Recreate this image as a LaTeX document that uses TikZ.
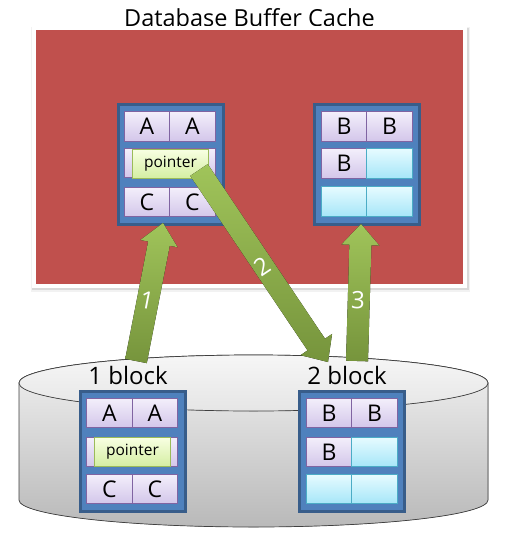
\documentclass[tikz,border=0pt]{standalone}
\usepackage{fontspec}
\setmainfont{Open Sans}
\usetikzlibrary{calc}
\definecolor{cacheRed}{HTML}{C0504D}
\definecolor{blk}{HTML}{4F81BD}
\definecolor{blkdark}{HTML}{385D8A}
\definecolor{purTop}{HTML}{F3EFFB}
\definecolor{purBot}{HTML}{D3C6EA}
\definecolor{purLine}{HTML}{8064A2}
\definecolor{cyTop}{HTML}{E6FBFF}
\definecolor{cyBot}{HTML}{A6E6F8}
\definecolor{cyLine}{HTML}{4BACC6}
\definecolor{ptTop}{HTML}{F8FFE2}
\definecolor{ptBot}{HTML}{D4EEA2}
\definecolor{ptLine}{HTML}{9BBB59}
\definecolor{grTop}{HTML}{A0C45A}
\definecolor{grBot}{HTML}{76943C}
\tikzset{
  blockbox/.style={fill=blk, draw=blkdark, line width=2.5pt, minimum width=105pt, minimum height=120pt, inner sep=0pt, anchor=north west},
  cellp/.style={top color=purTop, bottom color=purBot, draw=purLine, line width=0.7pt, minimum width=45.5pt, minimum height=29.5pt, inner sep=0pt, font=\fontsize{23}{23}\selectfont},
  cellc/.style={top color=cyTop, bottom color=cyBot, draw=cyLine, line width=0.7pt, minimum width=45.5pt, minimum height=29.5pt, inner sep=0pt},
  ptrbox/.style={top color=ptTop, bottom color=ptBot, draw=ptLine, line width=0.7pt, minimum width=76pt, minimum height=29pt, inner sep=0pt, font=\fontsize{15.5}{16}\selectfont},
  greenarrow/.style={top color=grTop, bottom color=grBot, draw=none},
  arrowlabel/.style={text=white, font=\fontsize{24}{24}\selectfont, inner sep=0pt},
  blocklabel/.style={font=\fontsize{24}{24}\selectfont, inner sep=0pt},
}
\newcommand\fatarrow[5]{%
  \coordinate (fa-h) at ($(#2)!#5!(#1)$);
  \fill[greenarrow]
    ($(#1)!#3!90:(#2)$) -- ($(fa-h)!#3!-90:(#1)$) -- ($(fa-h)!#4!-90:(#1)$) --
    (#2) -- ($(fa-h)!#4!90:(#1)$) -- ($(fa-h)!#3!90:(#1)$) -- ($(#1)!#3!-90:(#2)$) -- cycle;
}
\begin{document}
\begin{tikzpicture}[x=1pt,y=-1pt]
\useasboundingbox (0,0) rectangle (509,541);
\fill[white] (0,0) rectangle (509,541);

% title
\node[font=\fontsize{23.5}{24}\selectfont, inner sep=0pt] (title) at (249.5,18) {Database Buffer Cache};

% buffer cache frame with shadow
\fill[black, opacity=0.05] (31,27) rectangle (470,292);
\fill[black, opacity=0.10] (32,28) rectangle (469,290);
\fill[white] (32,26) rectangle (467,288);
\node[fill=cacheRed, minimum width=427pt, minimum height=254pt, inner sep=0pt, anchor=north west] (cache) at (36,30) {};

% disk cylinder
\fill[top color=gray!10, bottom color=gray!55, draw=black!75, line width=0.7pt]
  (19,383) -- (19,500) arc[start angle=180, end angle=0, x radius=234.5, y radius=27]
  -- (488,383) arc[start angle=0, end angle=-180, x radius=234.5, y radius=28] -- cycle;
\fill[top color=gray!7, bottom color=gray!20, draw=black!75, line width=0.7pt]
  (253.5,383) ellipse[x radius=234.5, y radius=28];

\node[blocklabel] (lbl1) at (128,375) {1 block};
\node[blocklabel] (lbl2) at (347,375) {2 block};

% top-left block
\node[blockbox] (tl) at (117,103) {};
\node[cellp] (tla1) at (147,126.5) {A};
\node[cellp] (tla2) at (192.5,126.5) {A};
\node[cellp] (tlb1) at (147,163) {};
\node[cellp] (tlb2) at (192.5,163) {};
\node[cellp] (tlc1) at (147,202) {C};
\node[cellp] (tlc2) at (192.5,202) {C};
\node[ptrbox] (tlp) at (170.5,164) {pointer};

% top-right block
\node[blockbox] (tr) at (313,103) {};
\node[cellp] (tra1) at (344,126.5) {B};
\node[cellp] (tra2) at (389.5,126.5) {B};
\node[cellp] (trb1) at (344,163.5) {B};
\node[cellc] (trb2) at (389.5,163.5) {};
\node[cellc] (trc1) at (344,201.5) {};
\node[cellc] (trc2) at (389.5,201.5) {};

% bottom-left block
\node[blockbox] (bl) at (79,390) {};
\node[cellp] (bla1) at (109.5,413) {A};
\node[cellp] (bla2) at (155,413) {A};
\node[cellp] (blb1) at (109.5,452) {};
\node[cellp] (blb2) at (155,452) {};
\node[cellp] (blc1) at (109.5,489) {C};
\node[cellp] (blc2) at (155,489) {C};
\node[ptrbox] (blp) at (132.5,452) {pointer};

% bottom-right block
\node[blockbox] (br) at (298,390) {};
\node[cellp] (bra1) at (329,413) {B};
\node[cellp] (bra2) at (374.5,413) {B};
\node[cellp] (brb1) at (329,452) {B};
\node[cellc] (brb2) at (374.5,452) {};
\node[cellc] (brc1) at (329,489) {};
\node[cellc] (brc2) at (374.5,489) {};

% arrows
\coordinate (a1s) at (136,361);
\coordinate (a1e) at (163,223);
\coordinate (a2s) at (199,170);
\coordinate (a2e) at (328,362);
\coordinate (a3s) at (357,361);
\coordinate (a3e) at (361,224);
\fatarrow{a1s}{a1e}{11pt}{19pt}{21pt}
\fatarrow{a2s}{a2e}{10.5pt}{19pt}{21pt}
\fatarrow{a3s}{a3e}{11pt}{19pt}{21pt}
\node[arrowlabel, rotate=-11] (n1) at (147,300) {1};
\node[arrowlabel, rotate=34] (n2) at (262,266) {2};
\node[arrowlabel, rotate=-2] (n3) at (358,300) {3};
\end{tikzpicture}
\end{document}
